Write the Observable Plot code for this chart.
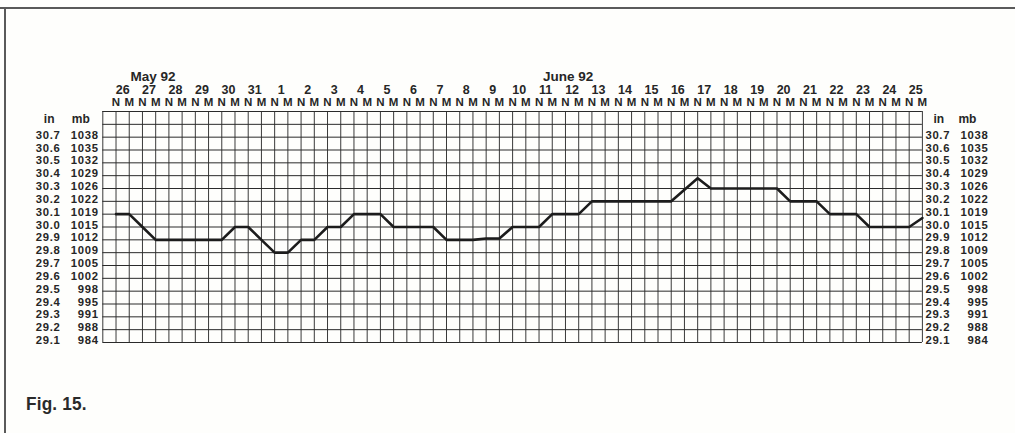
<!DOCTYPE html>
<html>
<head>
<meta charset="utf-8">
<script src="https://cdn.jsdelivr.net/npm/d3@7"></script>
<script src="https://cdn.jsdelivr.net/npm/@observablehq/plot@0.6"></script>
<style>
  html, body { margin: 0; padding: 0; background: #fefefc; }
  #wrap { position: relative; width: 1015px; height: 433px; overflow: hidden; background: #fefefc; }
  #frameTop { position: absolute; left: 0; top: 7px; width: 1015px; height: 2px; background: #5a5a5a; }
  #frameLeft { position: absolute; left: 4px; top: 7px; width: 2px; height: 426px; background: #5a5a5a; }
  #fig { position: absolute; left: 26px; top: 393px; font: bold 18.5px "Liberation Sans", Arial, sans-serif; letter-spacing: 0.2px; color: #2a2a2a; transform: scaleX(0.93); transform-origin: left top; }
  #chart { position: absolute; left: 0; top: 0; }
  .axlbl text { letter-spacing: 0.7px; }
</style>
</head>
<body>
<div id="wrap">
  <div id="chart"></div>
  <div id="frameTop"></div>
  <div id="frameLeft"></div>
  <div id="fig">Fig. 15.</div>
</div>
<script>
// Barometric pressure (inches), noon (N) and midnight (M) readings, 26 May – 25 June 1992
const readings = [
  30.1, 30.1, 30.0, 29.9, 29.9, 29.9, 29.9, 29.9, 29.9, 30.0,
  30.0, 29.9, 29.8, 29.8, 29.9, 29.9, 30.0, 30.0, 30.1, 30.1,
  30.1, 30.0, 30.0, 30.0, 30.0, 29.9, 29.9, 29.9, 29.91, 29.91,
  30.0, 30.0, 30.0, 30.1, 30.1, 30.1, 30.2, 30.2, 30.2, 30.2,
  30.2, 30.2, 30.2, 30.29, 30.38, 30.3, 30.3, 30.3, 30.3, 30.3,
  30.3, 30.2, 30.2, 30.2, 30.1, 30.1, 30.1, 30.0, 30.0, 30.0,
  30.0, 30.07
];
const days = [26, 27, 28, 29, 30, 31, 1, 2, 3, 4, 5, 6, 7, 8, 9, 10, 11, 12, 13, 14, 15, 16, 17, 18, 19, 20, 21, 22, 23, 24, 25];
const halfDays = ["N", "M"];
const months = [{label: "May 92", day: 1, shift: 0.3}, {label: "June 92", day: 17, shift: -0.3}];
const inLabels = ["30.7", "30.6", "30.5", "30.4", "30.3", "30.2", "30.1", "30.0", "29.9", "29.8", "29.7", "29.6", "29.5", "29.4", "29.3", "29.2", "29.1"];
const mbLabels = ["1038", "1035", "1032", "1029", "1026", "1022", "1019", "1015", "1012", "1009", "1005", "1002", "998", "995", "991", "988", "984"];
const yTop = 30.9, yBottom = 29.1;

const readingIdx = readings.map((_, i) => i);
const gridX = d3.range(-1, readings.length);
const gridY = d3.range(Math.round(yBottom * 10), Math.round(yTop * 10) + 1).map(v => v / 10);
const ticks = inLabels.map((t, i) => ({inch: +t, inLabel: t, mb: mbLabels[i]}));

const font = '"Liberation Sans", Arial, sans-serif';
const ink = "#262626";
const fs = 11.3;

const chart = Plot.plot({
  width: 1015,
  height: 433,
  marginLeft: 102.3,
  marginRight: 93.1,
  marginTop: 111,
  marginBottom: 91,
  style: {background: "transparent", fontFamily: font, color: ink, overflow: "visible"},
  x: {domain: [-1, readings.length - 1], axis: null},
  y: {domain: [yBottom, yTop], axis: null},
  marks: [
    Plot.ruleX(gridX, {x: d => d, stroke: "#3a3a3a", strokeWidth: 1}),
    Plot.ruleY(gridY, {y: d => d, stroke: "#2a2a2a", strokeWidth: 1}),
    Plot.line(readings, {x: (d, i) => i, y: d => d, stroke: "#1c1c1c", strokeWidth: 2.6, strokeLinejoin: "round"}),
    // left axis labels
    Plot.text(ticks, {y: "inch", text: "inLabel", frameAnchor: "left", dx: -67, dy: -2, textAnchor: "start", fontSize: fs, fontWeight: "bold", fill: ink, className: "axlbl"}),
    Plot.text(ticks, {y: "inch", text: "mb", frameAnchor: "left", dx: -4, dy: -2, textAnchor: "end", fontSize: fs, fontWeight: "bold", fill: ink, className: "axlbl"}),
    Plot.text(["in"], {frameAnchor: "top-left", dx: -59, dy: 8, textAnchor: "start", lineAnchor: "middle", fontSize: 12, fontWeight: "bold", fill: ink}),
    Plot.text(["mb"], {frameAnchor: "top-left", dx: -13, dy: 8, textAnchor: "end", lineAnchor: "middle", fontSize: 12, fontWeight: "bold", fill: ink}),
    // right axis labels
    Plot.text(ticks, {y: "inch", text: "inLabel", frameAnchor: "right", dx: 3, dy: -2, textAnchor: "start", fontSize: fs, fontWeight: "bold", fill: ink, className: "axlbl"}),
    Plot.text(ticks, {y: "inch", text: "mb", frameAnchor: "right", dx: 66, dy: -2, textAnchor: "end", fontSize: fs, fontWeight: "bold", fill: ink, className: "axlbl"}),
    Plot.text(["in"], {frameAnchor: "top-right", dx: 11, dy: 8, textAnchor: "start", lineAnchor: "middle", fontSize: 12, fontWeight: "bold", fill: ink}),
    Plot.text(["mb"], {frameAnchor: "top-right", dx: 54, dy: 8, textAnchor: "end", lineAnchor: "middle", fontSize: 12, fontWeight: "bold", fill: ink}),
    // top labels
    Plot.text(readingIdx, {x: d => d, text: d => halfDays[d % 2], frameAnchor: "top", dy: -9, lineAnchor: "middle", fontSize: 11.5, fontWeight: "bold", fill: ink}),
    Plot.text(days, {x: (d, i) => 2 * i + 0.5, text: d => String(d), frameAnchor: "top", dy: -22, lineAnchor: "middle", fontSize: 12.5, fontWeight: "bold", fill: ink}),
    Plot.text(months, {x: d => 2 * d.day + 0.5 + d.shift, text: "label", frameAnchor: "top", dy: -35, lineAnchor: "middle", fontSize: 13.5, fontWeight: "bold", fill: ink})
  ]
});
document.getElementById("chart").appendChild(chart);
</script>
</body>
</html>
